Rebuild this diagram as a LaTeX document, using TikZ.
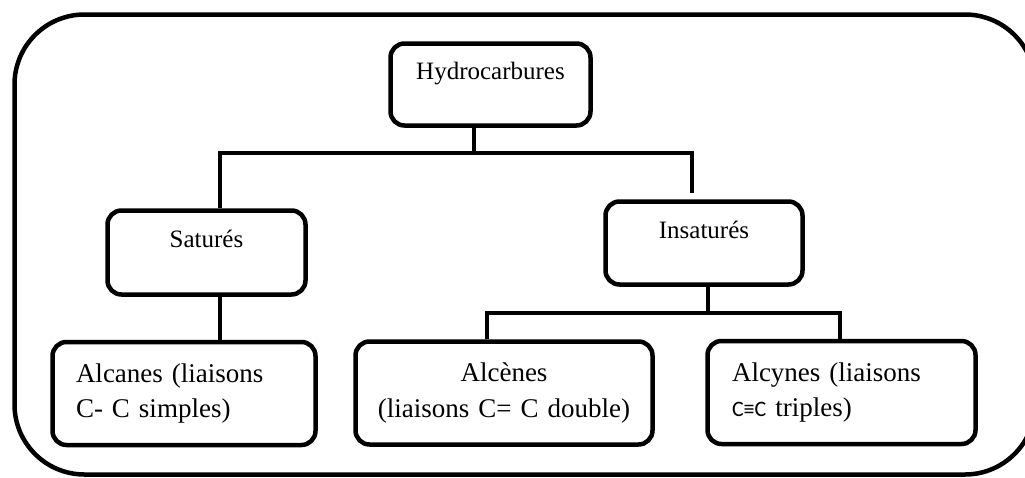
\documentclass[tikz,border=0pt]{standalone}
\usepackage{fontspec}
\setmainfont{Liberation Serif}
\newfontfamily\bondfont{Carlito}
\tikzset{
	frame/.style={draw, line width=4.5pt, rounded corners=70pt},
	box/.style={draw, line width=4.5pt, rounded corners=14pt, inner sep=0pt},
	topbox/.style={box, font=\fontsize{25}{30}\selectfont, text height=18pt, text depth=28pt},
	leafbox/.style={box, font=\fontsize{27}{35.5}\selectfont, minimum height=103pt},
	link/.style={line width=4.5pt}
}
\begin{document}
\begin{tikzpicture}[x=1pt,y=-1pt]
	\useasboundingbox (0,0) rectangle (1025,477);
	\draw[frame] (14.5,14.5) rectangle (1035,474.5);
	% first level
	\node[topbox, minimum width=200pt, minimum height=82pt] (hyd) at (490.5,84.5) {Hydrocarbures};
	\node[topbox, minimum width=198pt, minimum height=84pt] (sat) at (206.5,252.5) {Saturés};
	\node[topbox, minimum width=197pt, minimum height=83pt] (ins) at (704,243) {Insaturés};
	% leaves
	\node[leafbox, minimum width=263pt, text width=216pt, align=left] (alk) at (184,393.5) {Alcanes (liaisons\\C- C simples)};
	\node[leafbox, minimum width=297pt, text width=280pt, align=center] (alc) at (504,393) {Alcènes\\(liaisons C= C double)};
	\node[leafbox, minimum width=268pt, text width=219pt, align=left] (aly) at (841.5,392.5) {Alcynes (liaisons\\{\bondfont\fontsize{22}{24}\selectfont C≡C} triples)};
	% upper tree
	\coordinate (hb) at (474,153);
	\coordinate (sb) at (220,153);
	\coordinate (ib) at (692,153);
	\coordinate (iend) at (692,193);
	\draw[link] (hb |- hyd.south) -- (hb);
	\draw[link] (sat.north -| sb) -- (sb) -- (ib) -- (iend);
	\draw[link] (sat.south -| sb) -- (alk.north -| sb);
	% lower tree
	\coordinate (ub) at (708,313);
	\coordinate (eb) at (487,313);
	\coordinate (yb) at (840,313);
	\draw[link] (ins.south -| ub) -- (ub);
	\draw[link] (alc.north -| eb) -- (eb) -- (yb) -- (aly.north -| yb);
\end{tikzpicture}
\end{document}
